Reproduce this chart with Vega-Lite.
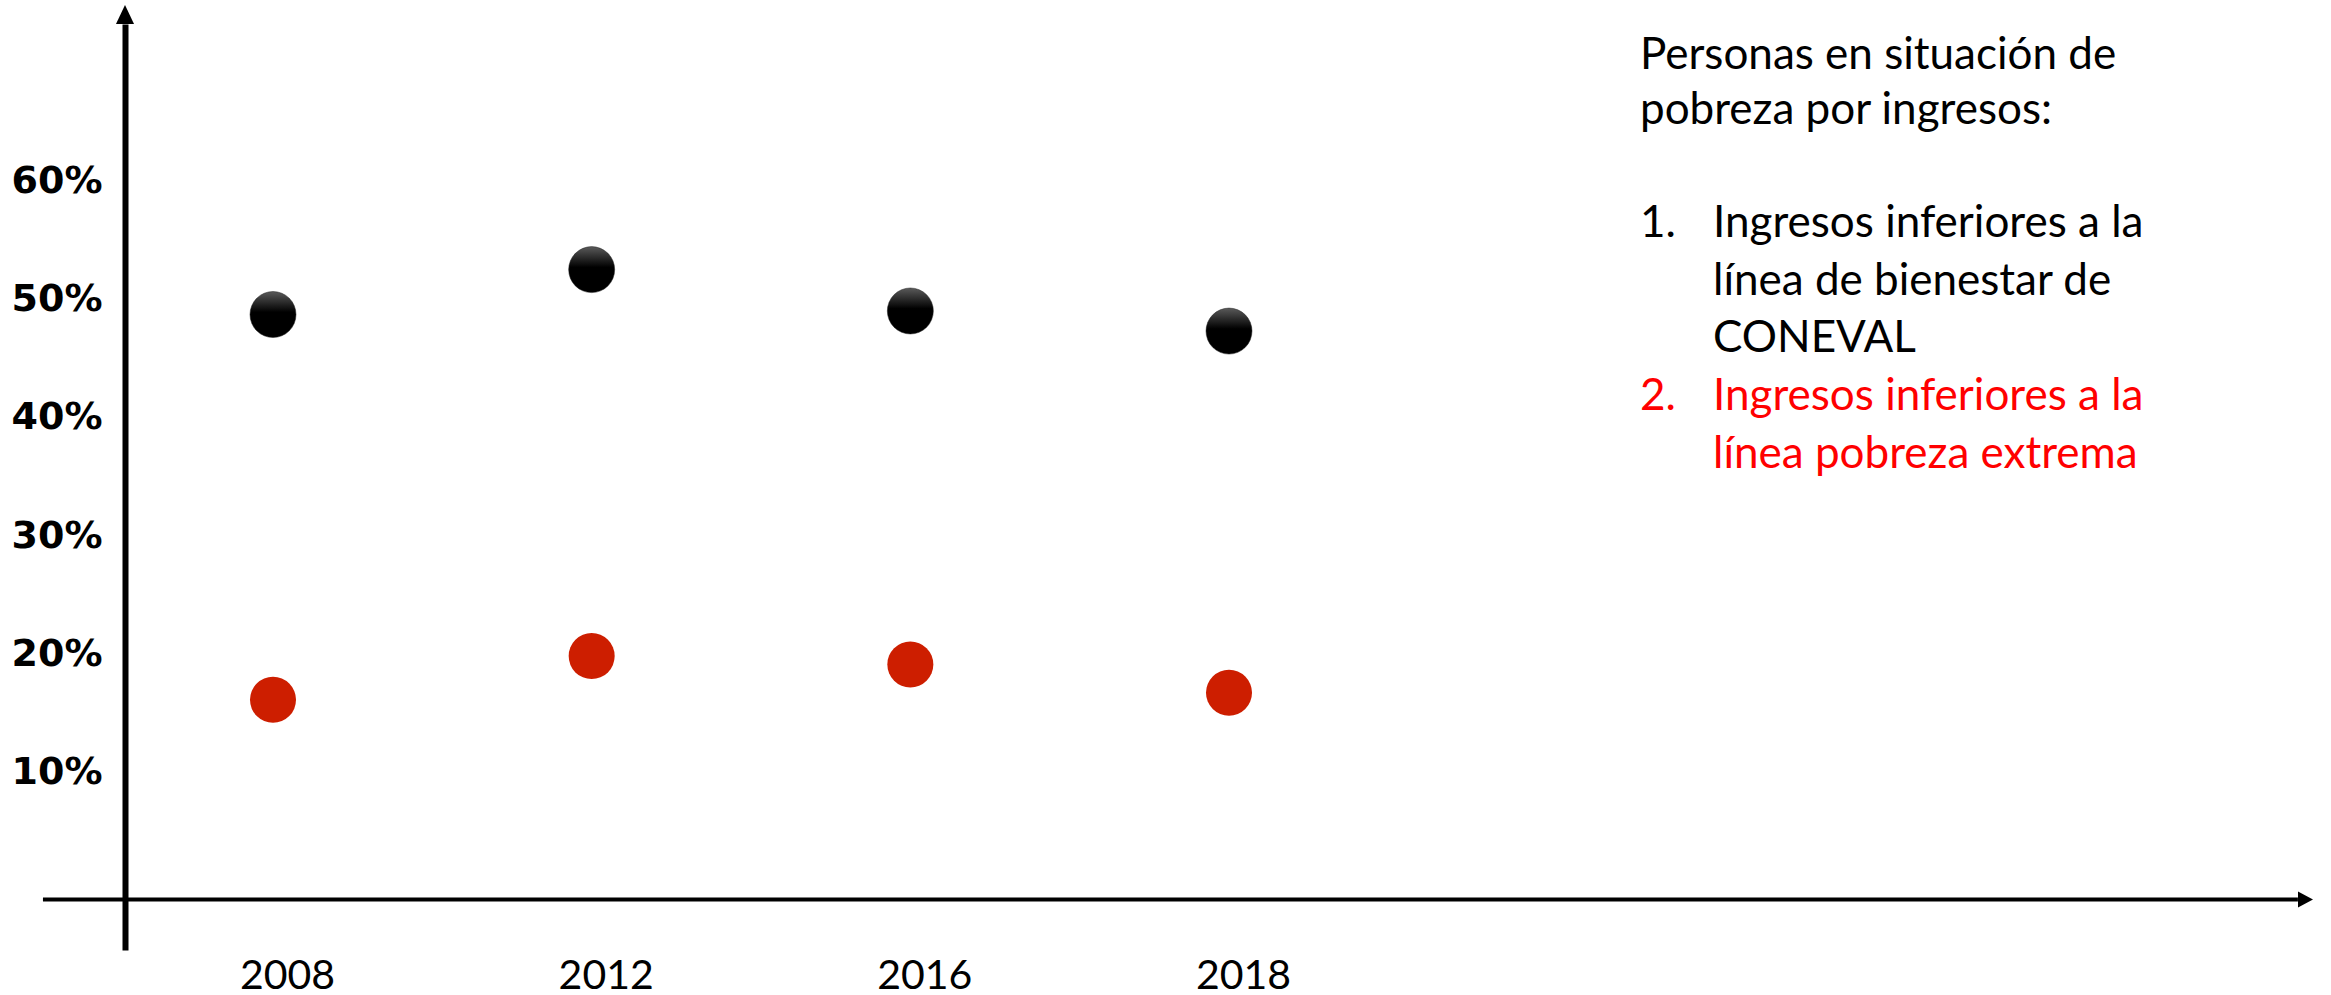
{
  "$schema": "https://vega.github.io/schema/vega-lite/v6.json",
  "autosize": {"type": "none"},
  "padding": {"left": 125, "top": 24, "right": 18, "bottom": 45},
  "width": 2188,
  "height": 926,
  "background": "white",
  "config": {"view": {"stroke": null}},
  "datasets": {
    "pobreza": [
      {"anio": "2008", "serie": "Ingresos inferiores a la línea de bienestar de CONEVAL", "valor": 49.0},
      {"anio": "2012", "serie": "Ingresos inferiores a la línea de bienestar de CONEVAL", "valor": 52.8},
      {"anio": "2016", "serie": "Ingresos inferiores a la línea de bienestar de CONEVAL", "valor": 49.3},
      {"anio": "2018", "serie": "Ingresos inferiores a la línea de bienestar de CONEVAL", "valor": 47.6},
      {"anio": "2008", "serie": "Ingresos inferiores a la línea pobreza extrema", "valor": 16.4},
      {"anio": "2012", "serie": "Ingresos inferiores a la línea pobreza extrema", "valor": 20.1},
      {"anio": "2016", "serie": "Ingresos inferiores a la línea pobreza extrema", "valor": 19.4},
      {"anio": "2018", "serie": "Ingresos inferiores a la línea pobreza extrema", "valor": 17.0}
    ]
  },
  "resolve": {"scale": {"x": "independent"}, "axis": {"x": "independent", "y": "independent"}},
  "layer": [
    {
      "data": {"values": [{}]},
      "layer": [
        {
          "mark": {"type": "rule", "color": "black", "strokeWidth": 4},
          "encoding": {
            "x": {"datum": -0.0375, "type": "quantitative", "scale": {"domain": [0, 1], "nice": false, "zero": false}, "axis": null},
            "x2": {"datum": 0.9931},
            "y": {"datum": -0.49, "type": "quantitative", "axis": null}
          }
        },
        {
          "mark": {"type": "point", "shape": "M1,0L-1,-1.07L-1,1.07Z", "filled": true, "color": "black", "opacity": 1, "size": 225},
          "encoding": {
            "x": {"datum": 0.99657, "type": "quantitative", "axis": null},
            "y": {"datum": -0.49, "type": "quantitative", "axis": null}
          }
        },
        {
          "mark": {"type": "point", "shape": "M0,-1L-0.95,1L0.95,1Z", "filled": true, "color": "black", "opacity": 1, "size": 361},
          "encoding": {
            "x": {"datum": 0, "type": "quantitative", "axis": null},
            "y": {"datum": 74.38, "type": "quantitative", "axis": null}
          }
        },
        {
          "mark": {"type": "text", "font": "Lato", "fontSize": 44, "color": "black", "align": "left", "baseline": "alphabetic", "lineHeight": 55},
          "encoding": {
            "x": {"datum": 0.6924, "type": "quantitative", "axis": null},
            "y": {"datum": 69.77, "type": "quantitative", "axis": null},
            "text": {"value": ["Personas en situación de", "pobreza por ingresos:"]}
          }
        },
        {
          "mark": {"type": "text", "font": "Lato", "fontSize": 44, "color": "black", "align": "left", "baseline": "alphabetic"},
          "encoding": {
            "x": {"datum": 0.6924, "type": "quantitative", "axis": null},
            "y": {"datum": 55.52, "type": "quantitative", "axis": null},
            "text": {"value": "1."}
          }
        },
        {
          "mark": {"type": "text", "font": "Lato", "fontSize": 44, "color": "black", "align": "left", "baseline": "alphabetic", "lineHeight": 57.5},
          "encoding": {
            "x": {"datum": 0.7258, "type": "quantitative", "axis": null},
            "y": {"datum": 55.52, "type": "quantitative", "axis": null},
            "text": {"value": ["Ingresos inferiores a la", "línea de bienestar de", "CONEVAL"]}
          }
        },
        {
          "mark": {"type": "text", "font": "Lato", "fontSize": 44, "color": "#FF0000", "align": "left", "baseline": "alphabetic"},
          "encoding": {
            "x": {"datum": 0.6924, "type": "quantitative", "axis": null},
            "y": {"datum": 40.92, "type": "quantitative", "axis": null},
            "text": {"value": "2."}
          }
        },
        {
          "mark": {"type": "text", "font": "Lato", "fontSize": 44, "color": "#FF0000", "align": "left", "baseline": "alphabetic", "lineHeight": 57.5},
          "encoding": {
            "x": {"datum": 0.7258, "type": "quantitative", "axis": null},
            "y": {"datum": 40.92, "type": "quantitative", "axis": null},
            "text": {"value": ["Ingresos inferiores a la", "línea pobreza extrema"]}
          }
        }
      ]
    },
    {
      "data": {"name": "pobreza"},
      "resolve": {"axis": {"x": "independent", "y": "independent"}},
      "layer": [
        {
          "transform": [{"filter": "datum.serie === 'Ingresos inferiores a la línea de bienestar de CONEVAL'"}],
          "mark": {
            "type": "point", "shape": "circle", "filled": true, "opacity": 1, "size": 2116,
            "fill": {"gradient": "linear", "x1": 0, "y1": 0, "x2": 0, "y2": 1, "stops": [
              {"offset": 0, "color": "#5a5a5a"},
              {"offset": 0.45, "color": "#000000"},
              {"offset": 1, "color": "#000000"}
            ]},
            "stroke": "#222222", "strokeWidth": 0.5
          },
          "encoding": {
            "x": {
              "field": "anio", "type": "ordinal",
              "scale": {"type": "point", "padding": 0, "range": [148, 1104]},
              "axis": {
                "title": null, "domain": false, "ticks": false, "tickSize": 0,
                "labelFont": "Lato", "labelFontSize": 41, "labelColor": "black",
                "labelBaseline": "alphabetic", "labelPadding": 38, "labelOffset": 14, "labelAngle": 0
              }
            },
            "y": {
              "field": "valor", "type": "quantitative",
              "scale": {"domain": [-4.763, 73.58], "nice": false, "zero": false},
              "axis": {
                "title": null, "values": [10, 20, 30, 40, 50, 60],
                "labelExpr": "datum.value + '%'",
                "domain": true, "domainColor": "black", "domainWidth": 6,
                "ticks": false, "tickSize": 0, "grid": false,
                "labelFont": "DejaVu Sans", "labelFontWeight": "bold", "labelFontSize": 38,
                "labelColor": "black", "labelBaseline": "middle", "labelPadding": 23, "labelOffset": -3
              }
            }
          }
        },
        {
          "transform": [{"filter": "datum.serie === 'Ingresos inferiores a la línea pobreza extrema'"}],
          "mark": {"type": "point", "shape": "circle", "filled": true, "opacity": 1, "size": 2116, "color": "#CD1E00"},
          "encoding": {
            "x": {"field": "anio", "type": "ordinal", "axis": null},
            "y": {"field": "valor", "type": "quantitative", "axis": null}
          }
        }
      ]
    }
  ]
}
